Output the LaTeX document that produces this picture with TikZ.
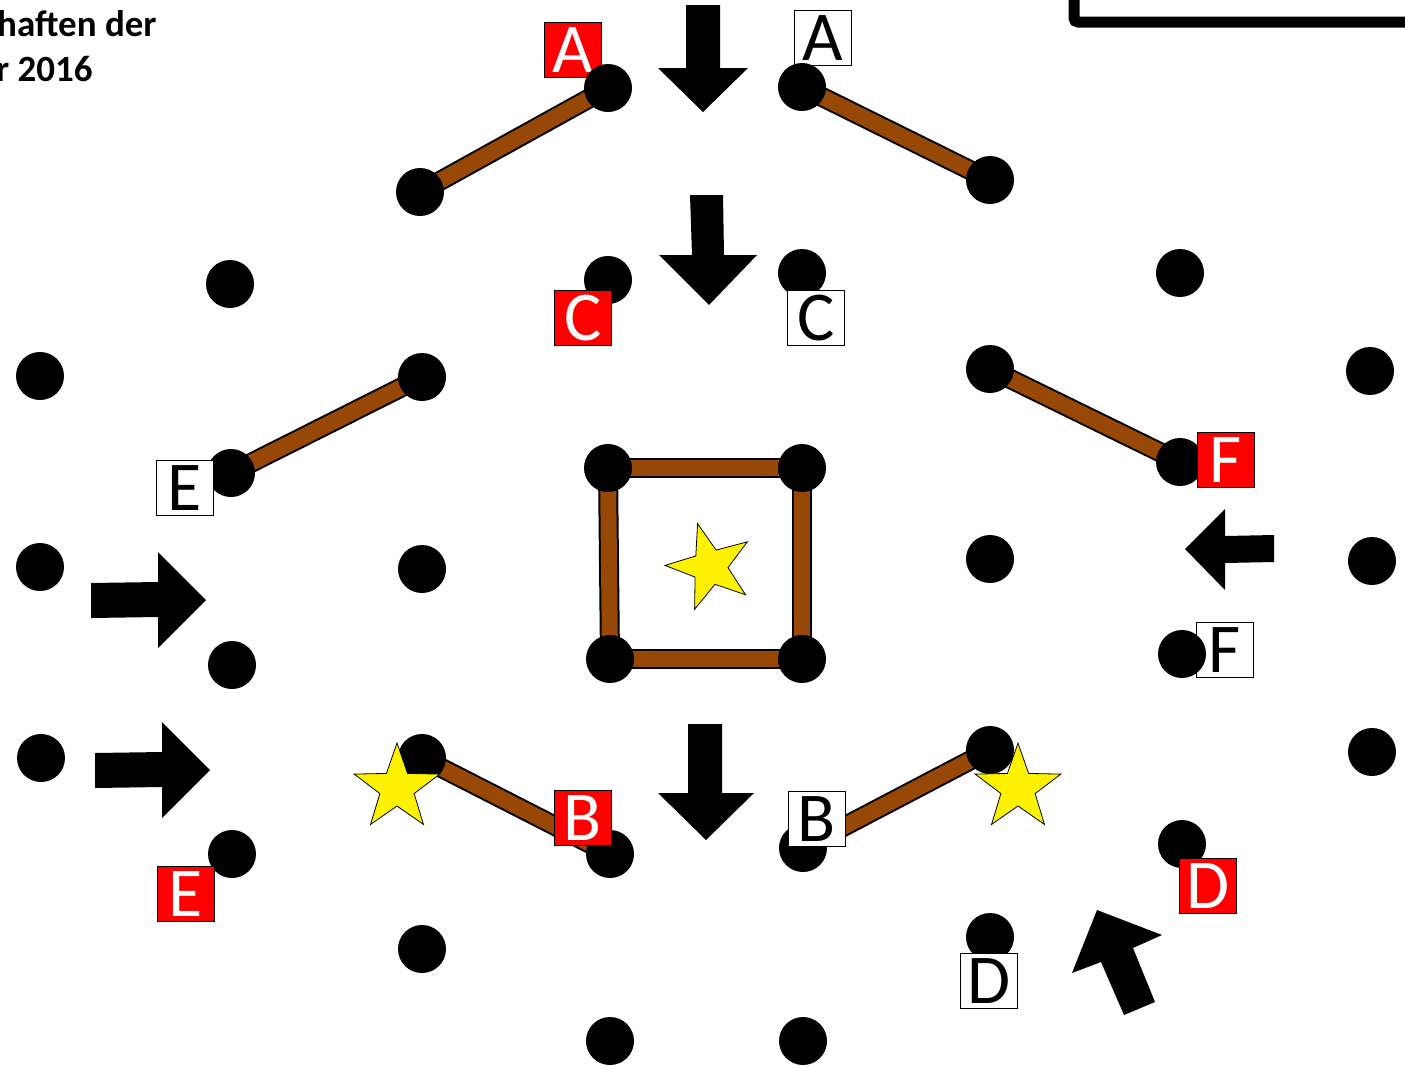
\documentclass[tikz,border=0pt]{standalone}
\usepackage{fontspec}
\newfontfamily\tagfont{Carlito}
\usetikzlibrary{shapes.geometric}

\definecolor{stickbrown}{RGB}{152,72,6}

\tikzset{every picture/.style={line width=0.75pt}}
\tikzset{
  dot/.style={circle, fill=black, minimum size=48, inner sep=0},
  stick/.style={draw=black, line width=20pt, postaction={draw=stickbrown, line width=16pt}},
  redtag/.style={draw=black, line width=1.2, fill=red, text=white, minimum width=57, minimum height=55, inner sep=0, font=\tagfont\fontsize{70}{70}\selectfont},
  whitetag/.style={redtag, fill=white, text=black},
  goldstar/.style={star, star points=5, star point ratio=2.5, draw=black, line width=0.8, fill=yellow, minimum size=90, inner sep=0},
  bigarrow/.style={fill=black}
}

\begin{document}
\begin{tikzpicture}[x=1pt,y=1pt,yscale=-1,xscale=1]
	\useasboundingbox (0,0) rectangle (1405,1066);
	\clip (0,0) rectangle (1405,1066);

	% Title, cut at the left
	\node [anchor=base east, inner sep=0, font=\tagfont\bfseries\fontsize{37}{37}\selectfont] (title1) at (157,36) {haften der};
	\node [anchor=base east, inner sep=0, font=\tagfont\bfseries\fontsize{37}{37}\selectfont] (title2) at (93,81) {r 2016};

	% Frame corner top right
	\draw [line width=11, rounded corners=4] (1074,-10) -- (1074,22) -- (1420,22);

	% Lattice points
	\foreach \n/\p in {d1/{608,88}, d2/{802,87}, d3/{420,192}, d4/{990,180},
	    d5/{230,284}, d6/{608,280}, d7/{802,273}, d8/{1180,273},
	    d9/{40,376}, d10/{422,377}, d11/{990,369}, d12/{1370,371},
	    d13/{231,473}, d14/{608,468}, d15/{802,468}, d16/{1180,462},
	    d17/{40,567}, d18/{422,569}, d19/{990,559}, d20/{1372,561},
	    d21/{232,665}, d22/{610,659}, d23/{802,659}, d24/{1182,654},
	    d25/{41,758}, d26/{422,758}, d27/{990,750}, d28/{1372,752},
	    d29/{232,854}, d30/{610,854}, d31/{803,848}, d32/{1182,844},
	    d33/{422,949}, d34/{990,937}, d35/{610,1041}, d36/{803,1041}}
	  \coordinate (\n) at (\p);

	% Matchsticks
	\path [stick] (d1) -- (d3);
	\path [stick] (d2) -- (d4);
	\path [stick] (d10) -- (d13);
	\path [stick] (d11) -- (d16);
	\path [stick] (d14) -- (d15);
	\path [stick] (d15) -- (d23);
	\path [stick] (d23) -- (d22);
	\path [stick] (d22) -- (d14);
	\path [stick] (d26) -- (d30);
	\path [stick] (d27) -- (d31);

	% Tags lying under the points
	\node [redtag] (redA) at (573,50) {A};
	\node [whitetag] (whiteA) at (823,38) {A};
	\node [whitetag] (whiteF) at (1225,650) {F};

	% Points
	\foreach \n in {1,...,36}
	  \node [dot] (p\n) at (d\n) {};

	% Tags lying over the points
	\node [redtag] (redC) at (583,318) {C};
	\node [whitetag] (whiteC) at (816,318) {C};
	\node [whitetag] (whiteE) at (185,488) {E};
	\node [redtag] (redE) at (186,894) {E};
	\node [redtag] (redF) at (1226,460) {F};
	\node [redtag] (redB) at (583,818) {B};
	\node [whitetag] (whiteB) at (817,819) {B};
	\node [redtag] (redD) at (1208,886) {D};
	\node [whitetag] (whiteD) at (989,981) {D};

	% Stars
	\node [goldstar, rotate=16] (starmid) at (710,567) {};
	\node [goldstar] (starleft) at (397,788) {};
	\node [goldstar] (starright) at (1018,788) {};

	% Arrows
	\fill [bigarrow] (686,5) -- (720,5) -- (720,68) -- (748,68) -- (703,112) -- (658,68) -- (686,68) -- cycle;
	\fill [bigarrow] (690,195) -- (723,195) -- (724,255) -- (757,255) -- (709,305) -- (659,255) -- (692,255) -- cycle;
	\fill [bigarrow] (688,724) -- (722,724) -- (722,793) -- (754,793) -- (706,840) -- (658,793) -- (688,793) -- cycle;
	\fill [bigarrow] (91,583) -- (158,582) -- (158,552) -- (206,600) -- (158,648) -- (158,617) -- (91,618) -- cycle;
	\fill [bigarrow] (95,753) -- (162,752) -- (162,722) -- (210,770) -- (162,818) -- (162,787) -- (95,788) -- cycle;
	\fill [bigarrow] (1274,535) -- (1225,536) -- (1225,509) -- (1185,549) -- (1225,590) -- (1225,563) -- (1274,562) -- cycle;
	\fill [bigarrow] (1097,910) -- (1162,935) -- (1133,948) -- (1155,1002) -- (1124,1015) -- (1101,962) -- (1072,973) -- cycle;

\end{tikzpicture}
\end{document}
